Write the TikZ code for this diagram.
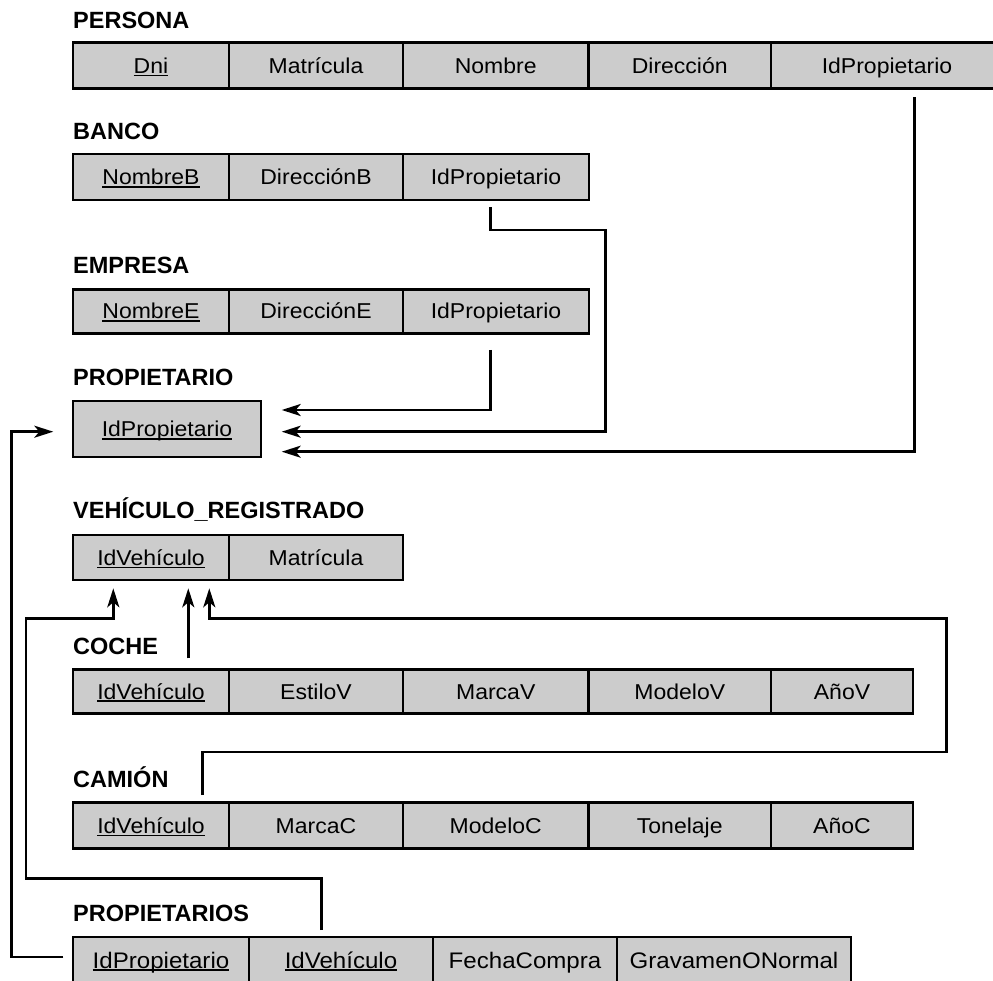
\documentclass[tikz,border=0pt]{standalone}
\usepackage{fontspec}
\setmainfont{Liberation Sans}
\newfontfamily\cellfont{Liberation Sans}[FakeStretch=1.07]
\usetikzlibrary{arrows.meta}
\definecolor{cellgray}{RGB}{204,204,204}
\newsavebox\keybox
\newcommand\keyu[1]{\sbox\keybox{#1}\rlap{\rule[-3pt]{\wd\keybox}{1.6pt}}\usebox\keybox}
\tikzset{
  cell/.style={draw=black, line width=2.8pt, fill=cellgray, inner sep=0pt, outer sep=0pt,
    anchor=north west, font=\cellfont\fontsize{21.5pt}{24pt}\selectfont,
    text height=15.4pt, text depth=0pt},
  bigcell/.style={cell, font=\cellfont\fontsize{22.5pt}{25pt}\selectfont, text height=16pt},
  title/.style={anchor=base west, inner sep=0pt, font=\bfseries\fontsize{23.5pt}{28pt}\selectfont},
  conn/.style={line width=2.6pt},
  arr/.style={conn, -{Stealth[length=19pt,width=12pt,inset=5pt]}}
}
\begin{document}
\begin{tikzpicture}[x=1pt,y=-1pt]
\useasboundingbox (0,0) rectangle (993,981);
\clip (0,0) rectangle (993,981);
% PERSONA
\node[title] (tPersona) at (73,28.3) {PERSONA};
\node[cell, minimum width=156pt, minimum height=46pt] (pDni) at (73,42.5) {\keyu{Dni}};
\node[cell, minimum width=174pt, minimum height=46pt] (pMat) at (229,42.5) {Matrícula};
\node[cell, minimum width=185.5pt, minimum height=46pt] (pNom) at (403,42.5) {Nombre};
\node[cell, minimum width=182.5pt, minimum height=46pt] (pDir) at (588.5,42.5) {Dirección};
\node[cell, minimum width=232pt, minimum height=46pt] (pIdP) at (771,42.5) {IdPropietario};
% BANCO
\node[title] (tBanco) at (73,140) {BANCO};
\node[cell, minimum width=156pt, minimum height=46pt] (bNom) at (73,154) {\keyu{NombreB}};
\node[cell, minimum width=174pt, minimum height=46pt] (bDir) at (229,154) {DirecciónB};
\node[cell, minimum width=186pt, minimum height=46pt] (bIdP) at (403,154) {IdPropietario};
% EMPRESA
\node[title] (tEmpresa) at (73,274) {EMPRESA};
\node[cell, minimum width=156pt, minimum height=44pt] (eNom) at (73,289.3) {\keyu{NombreE}};
\node[cell, minimum width=174pt, minimum height=44pt] (eDir) at (229,289.3) {DirecciónE};
\node[cell, minimum width=186pt, minimum height=44pt] (eIdP) at (403,289.3) {IdPropietario};
% PROPIETARIO
\node[title] (tProp) at (73,385) {PROPIETARIO};
\node[cell, minimum width=188pt, minimum height=56pt] (prIdP) at (73,401) {\keyu{IdPropietario}};
% VEHICULO_REGISTRADO
\node[title] (tVeh) at (73,518) {VEHÍCULO\_REGISTRADO};
\node[cell, minimum width=156pt, minimum height=45pt] (vId) at (73,535) {\keyu{IdVehículo}};
\node[cell, minimum width=174pt, minimum height=45pt] (vMat) at (229,535) {Matrícula};
% COCHE
\node[title] (tCoche) at (73,654) {COCHE};
\node[cell, minimum width=156pt, minimum height=44pt] (cId) at (73,669.3) {\keyu{IdVehículo}};
\node[cell, minimum width=174pt, minimum height=44pt] (cEst) at (229,669.3) {EstiloV};
\node[cell, minimum width=185.5pt, minimum height=44pt] (cMar) at (403,669.3) {MarcaV};
\node[cell, minimum width=182.5pt, minimum height=44pt] (cMod) at (588.5,669.3) {ModeloV};
\node[cell, minimum width=142pt, minimum height=44pt] (cAno) at (771,669.3) {AñoV};
% CAMION
\node[title] (tCamion) at (73,787) {CAMIÓN};
\node[cell, minimum width=156pt, minimum height=45.5pt] (kId) at (73,802.7) {\keyu{IdVehículo}};
\node[cell, minimum width=174pt, minimum height=45.5pt] (kMar) at (229,802.7) {MarcaC};
\node[cell, minimum width=185.5pt, minimum height=45.5pt] (kMod) at (403,802.7) {ModeloC};
\node[cell, minimum width=182.5pt, minimum height=45.5pt] (kTon) at (588.5,802.7) {Tonelaje};
\node[cell, minimum width=142pt, minimum height=45.5pt] (kAno) at (771,802.7) {AñoC};
% PROPIETARIOS
\node[title] (tProps) at (73,921) {PROPIETARIOS};
\node[bigcell, minimum width=176pt, minimum height=46pt] (sIdP) at (73,937) {\keyu{IdPropietario}};
\node[bigcell, minimum width=184pt, minimum height=46pt] (sIdV) at (249,937) {\keyu{IdVehículo}};
\node[bigcell, minimum width=184pt, minimum height=46pt] (sFec) at (433,937) {FechaCompra};
\node[bigcell, minimum width=234pt, minimum height=46pt] (sGra) at (617,937) {GravamenONormal};
% connector ends
\coordinate (bOut) at (490.7,207.3);
\coordinate (eOut) at (490.7,350);
\coordinate (pOut) at (914.3,97.3);
\coordinate (tipE) at (281.7,410);
\coordinate (tipB) at (281.7,431.7);
\coordinate (tipP) at (281.7,451.7);
\coordinate (sPOut) at (63.3,957);
\coordinate (tipL) at (53.3,431.7);
\coordinate (sVOut) at (321.7,930);
\coordinate (cOut) at (188.3,658.3);
\coordinate (kOut) at (202.7,795);
\coordinate (tipV1) at (113.3,588.3);
\coordinate (tipV2) at (188.3,588.3);
\coordinate (tipV3) at (209.3,588.3);
% connectors to PROPIETARIO
\draw[arr] (eOut) |- (tipE);
\draw[arr] (bOut) |- (605.7,230) |- (tipB);
\draw[arr] (pOut) |- (tipP);
\draw[arr] (sPOut) -| (11.7,431.7) -- (tipL);
% connectors to VEHICULO_REGISTRADO
\draw[arr] (sVOut) |- (26,878.3) |- (113.3,618.3) -- (tipV1);
\draw[arr] (cOut) -- (tipV2);
\draw[arr] (kOut) |- (946.7,752) |- (209.3,618.3) -- (tipV3);
\end{tikzpicture}
\end{document}
